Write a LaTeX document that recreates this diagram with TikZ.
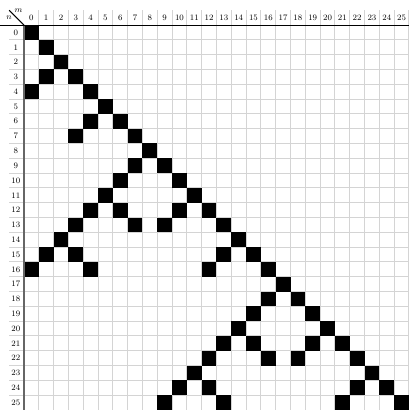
\documentclass[tikz,border=0pt]{standalone}
\usetikzlibrary{positioning}

\begin{document}
\begin{tikzpicture}[x=0.5cm, y=-0.5cm,
    gridline/.style={draw=black!17, line width=1pt},
    axisline/.style={line width=1pt},
    cell/.style={fill=black},
    lbl/.style={font=\footnotesize, inner sep=0pt}]
  \useasboundingbox (-1.62,-1.69) rectangle (25.95,26);

  % light grid, running into the label row and column
  \foreach \m in {1,...,26}
    \draw[gridline] (\m,-1) -- (\m,26);
  \foreach \n in {1,...,25}
    \draw[gridline] (-1,\n) -- (26,\n);

  % filled cells, row n : columns m
  \foreach \n/\ms in {0/{0},1/{1},2/{2},3/{1,3},4/{0,4},5/{5},6/{4,6},7/{3,7},
      8/{8},9/{7,9},10/{6,10},11/{5,11},12/{4,6,10,12},13/{3,7,9,13},
      14/{2,14},15/{1,3,13,15},16/{0,4,12,16},17/{17},18/{16,18},19/{15,19},
      20/{14,20},21/{13,15,19,21},22/{12,16,18,22},23/{11,23},
      24/{10,12,22,24},25/{9,13,21,25}}
    \foreach \m in \ms
      \fill[cell] (\m,\n) rectangle ++(1,1);

  % axes and the corner
  \draw[axisline, black!60] (0,0) -- (0,26);
  \draw[axisline] (-1.62,0) -- (26,0);
  \draw[axisline] (-1,-1) -- (0,0);
  \node[lbl] (mlabel) at (-0.37,-1.0) {$m$};
  \node[lbl] (nlabel) at (-1.0,-0.5) {$n$};

  % column and row numbers
  \foreach \m in {0,...,25}
    \node[lbl] (col\m) at (\m+0.5,-0.47) {\m};
  \foreach \n in {0,...,25}
    \node[lbl] (row\n) at (-0.55,\n+0.5) {\n};
\end{tikzpicture}
\end{document}
